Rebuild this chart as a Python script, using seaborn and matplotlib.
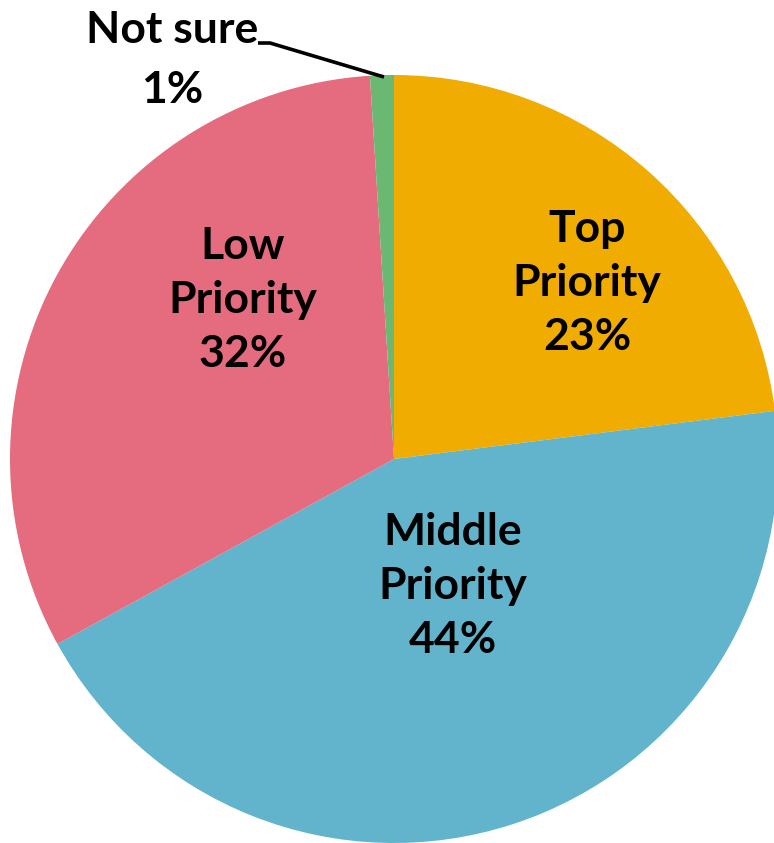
import matplotlib
matplotlib.use("Agg")
import matplotlib.pyplot as plt
import seaborn as sns

# Survey shares, clockwise from 12 o'clock
categories = ["Top Priority", "Middle Priority", "Low Priority", "Not sure"]
shares = [23, 44, 32, 1]
slice_colors = ["#F0AC00", "#62B4CD", "#E46C7E", "#6BB872"]
label_text = ["Top\nPriority", "Middle\nPriority", "Low\nPriority", "Not sure"]

sns.set_theme(style="white")
plt.rcParams["font.family"] = ["Lato", "DejaVu Sans"]

W, H = 774, 843
fig = plt.figure(figsize=(W / 100, H / 100), dpi=100)
ax = fig.add_axes([0, 0, 1, 1])

cx, cy, R = 394, 459, 384  # pie centre and radius in pixels

ax.pie(shares, colors=slice_colors, startangle=90, counterclock=False,
       radius=1.0, center=(0, 0), frame=True,
       wedgeprops=dict(linewidth=0))
ax.set_xlim(-cx / R, (W - cx) / R)
ax.set_ylim(-(H - cy) / R, cy / R)
ax.set_aspect("auto")
ax.axis("off")


def px(x, y):
    return (x - cx) / R, (cy - y) / R


txt = dict(ha="center", va="center", fontsize=32, fontweight="bold",
           color="black", linespacing=1.42)

# In-slice labels
inside_pos = [(587, 283), (453, 586), (243, 300)]
for name, val, (x, y) in zip(label_text[:3], shares[:3], inside_pos):
    ax.text(*px(x, y), f"{name}\n{val}%", **txt)

# Small slice labelled outside with a leader line
ax.text(*px(172, 30), label_text[3], **txt)
ax.text(*px(172, 90), f"{shares[3]}%", **txt)
pts = [px(258, 43), px(270, 43), px(384, 77)]
ax.plot([p[0] for p in pts], [p[1] for p in pts], color="black",
        linewidth=2.6, solid_capstyle="butt")

fig.savefig("out.png", dpi=100)
